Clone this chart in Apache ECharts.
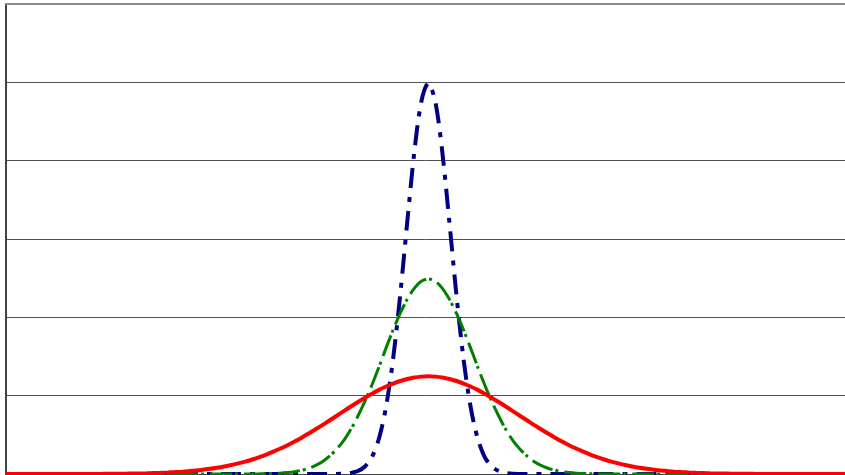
<!DOCTYPE html>
<html>
<head>
<meta charset="utf-8">
<script src="https://cdn.jsdelivr.net/npm/echarts@6/dist/echarts.min.js"></script>
<style>
  html, body { margin: 0; padding: 0; background: #fff; }
  #chart { width: 845px; height: 475px; }
</style>
</head>
<body>
<div id="chart"></div>
<script>
// Sample grid along the x axis: -1.5 .. 1.5 in steps of 0.025 (121 samples)
const xStart = -1.5;
const xStep = 0.025;

// Narrow curve (peak ~5)
const narrowHalf = [4.99, 4.75, 4.10, 3.21, 2.28, 1.47, 0.86, 0.456, 0.219, 0.096, 0.038, 0.014, 0.004, 0.001,
  0, 0, 0, 0, 0, 0, 0, 0, 0, 0, 0, 0, 0, 0, 0, 0, 0, 0, 0, 0, 0, 0, 0, 0, 0, 0, 0, 0, 0, 0, 0, 0, 0, 0, 0, 0,
  0, 0, 0, 0, 0, 0, 0, 0, 0, 0, 0];
// Medium curve (peak ~2.5)
const mediumHalf = [2.49, 2.46, 2.37, 2.23, 2.05, 1.84, 1.61, 1.37, 1.14, 0.93, 0.74, 0.57, 0.43, 0.32, 0.23,
  0.16, 0.11, 0.073, 0.048, 0.030, 0.019, 0.011, 0.007, 0.004, 0.002, 0.001,
  0, 0, 0, 0, 0, 0, 0, 0, 0, 0, 0, 0, 0, 0, 0, 0, 0, 0, 0, 0, 0, 0, 0, 0, 0, 0, 0, 0, 0, 0, 0, 0, 0, 0, 0];
// Wide curve (peak ~1.25)
const wideHalf = [1.247, 1.243, 1.232, 1.213, 1.187, 1.155, 1.117, 1.074, 1.026, 0.974, 0.919, 0.862, 0.803,
  0.744, 0.686, 0.627, 0.571, 0.516, 0.464, 0.414, 0.368, 0.325, 0.285, 0.248, 0.215, 0.185, 0.158, 0.135,
  0.114, 0.096, 0.080, 0.066, 0.055, 0.045, 0.037, 0.030, 0.024, 0.019, 0.015, 0.012, 0.009, 0.007, 0.006,
  0.004, 0.003, 0.002, 0.002, 0.001, 0.001, 0, 0, 0, 0, 0, 0, 0, 0, 0, 0, 0, 0];

// The curves are symmetric: each list above runs from the centre outward.
function mirrored(half) {
  const left = half.slice(1).reverse();
  return left.concat(half);
}
function pairs(values) {
  return values.map((v, i) => [xStart + i * xStep, v]);
}

const narrow = mirrored(narrowHalf);
const medium = mirrored(mediumHalf);
const wide = mirrored(wideHalf);

const chart = echarts.init(document.getElementById('chart'), null, { renderer: 'canvas' });
chart.setOption({
  animation: false,
  backgroundColor: '#ffffff',
  grid: { left: 6, right: 0, top: 4, bottom: 1, containLabel: false },
  xAxis: [
    {
      type: 'value', min: -1.5, max: 1.48,
      axisLine: { show: true, onZero: false, lineStyle: { color: '#444', width: 1 } },
      axisTick: { show: false }, axisLabel: { show: false }, splitLine: { show: false }
    },
    {
      type: 'value', position: 'top', min: -1.5, max: 1.48,
      axisLine: { show: true, onZero: false, lineStyle: { color: '#8a8a8a', width: 2 } },
      axisTick: { show: false }, axisLabel: { show: false }, splitLine: { show: false }
    }
  ],
  yAxis: {
    type: 'value', min: 0, max: 6, interval: 1,
    axisLine: { show: true, onZero: false, lineStyle: { color: '#444', width: 2 } },
    axisTick: { show: false }, axisLabel: { show: false },
    splitLine: { show: true, lineStyle: { color: '#505050', width: 1 } }
  },
  series: [
    {
      type: 'line', data: pairs(narrow), showSymbol: false, smooth: 0.3,
      lineStyle: { color: '#000080', width: 4, type: [20, 9, 5, 9], cap: 'butt' }
    },
    {
      type: 'line', data: pairs(medium), showSymbol: false, smooth: 0.3,
      lineStyle: { color: '#008000', width: 3, type: [22, 3, 3, 6], cap: 'butt' }
    },
    {
      type: 'line', data: pairs(wide), showSymbol: false, smooth: 0.3,
      lineStyle: { color: '#ff0000', width: 4, type: 'solid' }
    }
  ]
});
</script>
</body>
</html>
